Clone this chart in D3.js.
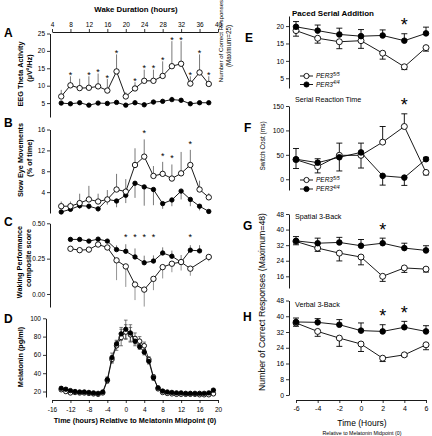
<!DOCTYPE html>
<html><head><meta charset="utf-8">
<script src="https://cdn.jsdelivr.net/npm/d3@7"></script>
<style>
body{margin:0;background:#fff;}
svg{display:block;font-family:"Liberation Sans",Arial,sans-serif;}
</style></head><body>
<script>
// ---------- DATA ----------
const wakeTicks = [4,8,12,16,20,24,28,32,36,40];
const melTicks = [-16,-12,-8,-4,0,4,8,12,16,20];
const wakeHours = [6,8,10,12,14,16,18,20,22,24,26,28,30,32,34,36,38];

const thetaOpen = [6.9,10.1,9.3,9.4,9.8,8.6,14.1,6.9,9.2,11.4,11.4,12.8,15.6,16.3,10.6,13.8,10.5];
const thetaOpenErr = [1.9,2.6,2.7,3.3,3.7,3.3,4.9,1.2,1.8,3.2,3.2,4.2,7.2,6.5,2.1,5.2,2.2];
const thetaFilled = [5.0,4.8,5.1,4.4,5.0,4.9,5.2,4.4,5.1,4.5,5.3,5.5,6.0,5.8,4.8,5.1,5.1];
const thetaFilledErr = [0.4,0.5,0.4,0.5,0.5,0.5,0.6,0.5,0.5,0.5,0.6,0.7,0.8,0.7,0.5,0.5,0.5];
const thetaStars = [8,12,14,16,18,22,24,26,28,30,32,34,36,38];
const thetaTicks = [5,10,15,20,25];

const semOpen = [1.3,1.3,1.9,2.6,2.2,2.6,4.5,4.1,9.2,10.8,7.1,7.5,6.6,7.6,9.2,4.5,3.0];
const semOpenErr = [0.9,0.9,1.8,2.6,1.5,1.8,3.0,2.4,3.2,3.3,1.9,2.3,2.7,4.1,2.9,1.7,0.8];
const semFilled = [0.2,0.7,1.4,1.3,0.8,2.6,2.3,3.4,5.7,5.0,4.5,1.8,2.5,4.2,2.6,1.3,0.3];
const semFilledErr = [0.2,0.4,0.6,0.6,0.5,1.0,1.2,1.5,2.8,3.6,3.0,1.0,1.2,1.6,1.3,0.8,0.3];
const semStars = [24,28,30,34];
const semTicks = [4,8,12,16];

const perfFilledHours = [8,10,12,14,16,18,20,22,24,26,28,30,32,34,36];
const perfFilled = [0.386,0.386,0.374,0.388,0.374,0.314,0.302,0.262,0.221,0.233,0.29,0.267,0.226,0.31,0.305];
const perfFilledErr = [0.015,0.015,0.015,0.015,0.015,0.03,0.05,0.06,0.05,0.04,0.04,0.04,0.05,0.035,0.04];
const perfOpenHours = [8,10,12,14,16,18,20,22,24,26,28,30,32,34,38];
const perfOpen = [0.32,0.31,0.314,0.35,0.329,0.238,0.195,0.067,0.031,0.107,0.19,0.214,0.226,0.179,0.262];
const perfOpenErr = [0.02,0.02,0.02,0.02,0.02,0.14,0.145,0.11,0.12,0.08,0.08,0.06,0.06,0.05,0.03];
const perfStars = [20,22,24,26,34];
const perfStarLevel = 0.42;
const perfTicks = [0,0.25,0.5];

const melTimes = [-14,-13,-12,-11,-10,-9,-8,-7,-6,-5,-4,-3,-2,-1,0,1,2,3,4,5,6,7,8,9,10,11,12,13,14,15,16,17,18,19];
const melFilled = [23.5,22.5,21,20,19.5,19.5,19,18.5,18,19.5,33,57,72,83,88,84,75,69,63,53,35,24,20.5,19.5,19,18.5,18.5,18,18,18,18,18,18.5,21.5];
const melFilledErr = [1.5,1.5,1,1,1,1,1,1,1,1,3,5,4,7,10,9,5,3,3,3,3,2,1.5,1,1,1,1,1,1,1,1,1,1,1.5];
const melOpen = [22,20,18.5,19,18.5,18.5,18,17.5,17,18.5,32,55,70,79,85,82,78,75,70,55,36,23,19,18,17.5,17,17,17,17,17,16.5,16.5,16.5,17.5];
const melOpenErr = [1.5,1.5,1,1,1,1,1,1,1,1,3,4,5,9,8,8,6,5,4,3,2,2,1,1,1,1,1,1,1,1,1,1,1,1.5];
const melYTicks = [20,40,60,80,100];

const taskTimes = [-6,-4,-2,0,2,4,6];
const psaFilled = [19.8,18.7,17.6,17.1,17.3,15.8,17.9];
const psaFilledErr = [1.5,1.6,1.8,1.9,1.6,2.0,1.8];
const psaOpen = [18.7,16.5,15.5,15.8,12.2,8.3,13.8];
const psaOpenErr = [1.6,1.4,2.0,2.2,1.7,0.8,1.0];
const psaStars = [4];
const psaTicks = [5,10,15,20];

const srtFilled = [41,34,45,55,7,3.4,41];
const srtFilledErr = [22,8,28,19,19,16,4];
const srtOpen = [40,26,49,49,76,108,14];
const srtOpenErr = [18,13,25,26,32,26,5];
const srtStars = [4];
const srtTicks = [0,50,100,150];

const spaFilled = [34.2,33,33.4,31.7,33,30.5,29.3];
const spaFilledErr = [2.2,2.6,2.6,3.2,2.6,2.5,2.4];
const spaOpen = [33.9,30.5,27.9,25.9,16,20.3,19.7];
const spaOpenErr = [1.7,1.7,4,4,2.6,2.3,1.5];
const spaStars = [2];
const spaTicks = [16,24,32,40,48];

const verFilled = [37.1,36.9,35.7,32.7,32.3,34.4,32.3];
const verFilledErr = [2,1.9,2.6,3.9,3.4,3,2.9];
const verOpen = [36.6,32.3,28.9,25.9,18.7,20.4,25.5];
const verOpenErr = [1.7,2.5,4.2,3.8,1.7,0.8,2.5];
const verStars = [2,4];
const verTicks = [0,8,16,24,32,40,48];

// ---------- SETUP ----------
const FONT = '"Liberation Sans", Arial, sans-serif';
const svg = d3.select("body").append("svg").attr("width",432).attr("height",436);

function txt(x,y,s,size,opts){
  opts = opts||{};
  return svg.append("text").attr("x",x).attr("y",y)
    .style("font-size",size+"px").style("font-weight",opts.bold?"bold":"normal")
    .attr("text-anchor",opts.anchor||"start").attr("fill","#000").text(s);
}
function rot(x,y,s,size,bold){
  return svg.append("text").attr("transform",`translate(${x},${y}) rotate(-90)`)
    .attr("text-anchor","middle").style("font-size",size+"px")
    .style("font-weight",bold?"bold":"normal").attr("fill","#000").text(s);
}
function styleAxis(g,size){
  g.attr("font-family",FONT).attr("font-size",size);
  g.selectAll("text").attr("fill","#000");
  g.selectAll("line").attr("stroke","#000").attr("stroke-width",0.8);
  g.select(".domain").attr("stroke","#000").attr("stroke-width",0.9);
}
const fmtPlain = d => String(d);
function yAxis(scale,x,ticks,size,fmt){
  const g = svg.append("g").attr("transform",`translate(${x},0)`)
    .call(d3.axisLeft(scale).tickValues(ticks).tickSize(3).tickSizeOuter(0).tickPadding(2).tickFormat(fmt||fmtPlain));
  styleAxis(g,size);
  return g;
}
function errBars(xS,yS,xs,ys,errs,dirs,cap,color,w){
  const g = svg.append("g").attr("stroke",color).attr("stroke-width",w||0.8).attr("fill","none");
  xs.forEach((xv,i)=>{
    const d = typeof dirs==="function"?dirs(i):dirs;
    const x = xS(xv);
    const top = d>=0 ? ys[i]+errs[i] : ys[i];
    const bot = d<=0 ? ys[i]-errs[i] : ys[i];
    g.append("line").attr("x1",x).attr("x2",x).attr("y1",yS(top)).attr("y2",yS(bot));
    if(cap){
      if(d>=0) g.append("line").attr("x1",x-cap).attr("x2",x+cap).attr("y1",yS(top)).attr("y2",yS(top));
      if(d<=0) g.append("line").attr("x1",x-cap).attr("x2",x+cap).attr("y1",yS(bot)).attr("y2",yS(bot));
    }
  });
}
function series(xS,yS,xs,ys,filled,r,lw){
  const line = d3.line().x((d,i)=>xS(xs[i])).y(d=>yS(d));
  svg.append("path").datum(ys).attr("d",line).attr("fill","none").attr("stroke","#000").attr("stroke-width",lw||0.9);
  svg.append("g").selectAll("circle").data(ys).join("circle")
    .attr("cx",(d,i)=>xS(xs[i])).attr("cy",d=>yS(d)).attr("r",r)
    .attr("fill",filled?"#000":"#fff").attr("stroke","#000").attr("stroke-width",0.9);
}
function stars(xS,positions,yFn,size){
  positions.forEach(p=>{
    svg.append("text").attr("x",xS(p)).attr("y",yFn(p)).attr("text-anchor","middle")
      .style("font-size",size+"px").attr("fill","#000").text("*");
  });
}

// ---------- LEFT COLUMN ----------
const xWake = d3.scaleLinear([4,40],[52,218]);
const xMel = d3.scaleLinear([-16,20],[52,218]);
const axX = 50;

txt(136,12,"Wake Duration (hours)",7.8,{bold:true,anchor:"middle"});
{
  const g = svg.append("g").attr("transform","translate(0,32)")
    .call(d3.axisTop(xWake).tickValues(wakeTicks).tickSize(3).tickSizeOuter(0).tickPadding(2).tickFormat(fmtPlain));
  styleAxis(g,6.5);
}

// Panel A
const yA = d3.scaleLinear([1,25],[117,33.5]);
yAxis(yA,axX,thetaTicks,6.5);
txt(4,37,"A",12,{bold:true});
rot(23,74,"EEG Theta Activity",7.3,true);
rot(32,68,"(\u00b5V\u00b2/Hz)",7.3,true);
errBars(xWake,yA,wakeHours,thetaOpen,thetaOpenErr,1,0,"#555",0.8);
errBars(xWake,yA,wakeHours,thetaFilled,thetaFilledErr,1,0,"#555",0.8);
series(xWake,yA,wakeHours,thetaFilled,true,2.2);
series(xWake,yA,wakeHours,thetaOpen,false,2.7);
stars(xWake,thetaStars,h=>{const i=wakeHours.indexOf(h);return yA(thetaOpen[i]+thetaOpenErr[i])+1.5;},9);

// Panel B
const yB = d3.scaleLinear([0,16],[213,129.5]);
yAxis(yB,axX,semTicks,6.5);
txt(4,127,"B",12,{bold:true});
rot(23,160,"Slow Eye Movements",7.3,true);
rot(32,158,"(% of time)",7.3,true);
errBars(xWake,yB,wakeHours,semOpen,semOpenErr,1,0,"#555",0.8);
errBars(xWake,yB,wakeHours,semFilled,semFilledErr,-1,0,"#555",0.8);
series(xWake,yB,wakeHours,semFilled,true,2.2);
series(xWake,yB,wakeHours,semOpen,false,2.7);
stars(xWake,semStars,h=>{const i=wakeHours.indexOf(h);return yB(semOpen[i]+semOpenErr[i])-3;},9);

// Panel C
const yC = d3.scaleLinear([-0.092,0.5],[307,223.3]);
yAxis(yC,axX,perfTicks,6.5,d3.format(".2f"));
txt(4,226,"C",12,{bold:true});
rot(22,262,"Waking Performance",7.3,true);
rot(31,258,"composite score",7.3,true);
errBars(xWake,yC,perfOpenHours,perfOpen,perfOpenErr,-1,0,"#888",0.9);
errBars(xWake,yC,perfFilledHours,perfFilled,perfFilledErr,1,0,"#555",0.8);
series(xWake,yC,perfFilledHours,perfFilled,true,2.2);
series(xWake,yC,perfOpenHours,perfOpen,false,2.7);
stars(xWake,perfStars,()=>yC(perfStarLevel)+5,9);

// Panel D
const yD = d3.scaleLinear([14,100],[397,318.3]);
yAxis(yD,axX-4,melYTicks,6.5);
txt(4,323,"D",12,{bold:true});
rot(23,357,"Melatonin (pg/ml)",7.3,true);
errBars(xMel,yD,melTimes,melOpen,melOpenErr,0,1.8,"#444",0.7);
errBars(xMel,yD,melTimes,melFilled,melFilledErr,0,1.8,"#444",0.7);
series(xMel,yD,melTimes,melOpen,false,2.3,0.8);
series(xMel,yD,melTimes,melFilled,true,2.2,0.8);
{
  const g = svg.append("g").attr("transform","translate(0,400)")
    .call(d3.axisBottom(xMel).tickValues(melTicks).tickSize(3).tickSizeOuter(0).tickPadding(4).tickFormat(fmtPlain));
  styleAxis(g,6.5);
}
txt(135,423,"Time (hours) Relative to Melatonin Midpoint (0)",7.3,{bold:true,anchor:"middle"});

// ---------- RIGHT COLUMN ----------
const xT = d3.scaleLinear([-6,6],[296,426]);
const rAx = 289;
const rdir = (f,o)=> (i=> f[i]>=o[i]?1:-1);
const odir = (f,o)=> (i=> f[i]>=o[i]?-1:1);

function legend(y1,y2){
  [[y1,false,"5/5"],[y2,true,"4/4"]].forEach(([y,filled,sup])=>{
    svg.append("line").attr("x1",300).attr("x2",313).attr("y1",y).attr("y2",y).attr("stroke","#000").attr("stroke-width",0.9);
    svg.append("circle").attr("cx",306.5).attr("cy",y).attr("r",2.6).attr("fill",filled?"#000":"#fff").attr("stroke","#000").attr("stroke-width",0.9);
    const t = svg.append("text").attr("x",316).attr("y",y+2.3).style("font-size","6.5px").style("font-style","italic").attr("fill","#000");
    t.append("tspan").text("PER3");
    t.append("tspan").attr("dy",-2.6).style("font-size","4.8px").text(sup);
  });
}
function rightPanel(yS,ticks,f,fe,o,oe,st,starSize){
  yAxis(yS,rAx,ticks,6.8);
  errBars(xT,yS,taskTimes,f,fe,rdir(f,o),3,"#000",0.9);
  errBars(xT,yS,taskTimes,o,oe,odir(f,o),3,"#000",0.9);
  series(xT,yS,taskTimes,o,false,3);
  series(xT,yS,taskTimes,f,true,2.8);
  stars(xT,st,p=>{const i=taskTimes.indexOf(p);const top=Math.max(f[i]+(f[i]>=o[i]?fe[i]:0),o[i]+(o[i]>f[i]?oe[i]:0));return yS(top)-2.5;},starSize);
}

// Panel E
const yE = d3.scaleLinear([2.2,22.9],[88,16]);
txt(292,16,"Paced Serial Addition",8,{bold:true});
txt(245,41.5,"E",12,{bold:true});
rot(223,41,"Number of Correct Responses",6.1,false);
rot(231,46,"(Maximum=25)",6.3,false);
rightPanel(yE,psaTicks,psaFilled,psaFilledErr,psaOpen,psaOpenErr,psaStars,18);
legend(76,84.5);

// Panel F
const yF = d3.scaleLinear([-22,150],[190,106]);
txt(295,101.5,"Serial Reaction Time",7.2);
txt(244,132,"F",12,{bold:true});
rot(265,146,"Switch Cost (ms)",6.5,false);
rightPanel(yF,srtTicks,srtFilled,srtFilledErr,srtOpen,srtOpenErr,srtStars,18);
legend(180,189);

// Panel G
const yG = d3.scaleLinear([10,48],[288,214]);
txt(295,218.5,"Spatial 3-Back",7.2);
txt(243,229.5,"G",12,{bold:true});
rightPanel(yG,spaTicks,spaFilled,spaFilledErr,spaOpen,spaOpenErr,spaStars,18);

// Panel H
const yH = d3.scaleLinear([0,48],[395,300.5]);
txt(295,307,"Verbal 3-Back",7.2);
txt(243,320.5,"H",12,{bold:true});
rightPanel(yH,verTicks,verFilled,verFilledErr,verOpen,verOpenErr,verStars,18);
{
  const g = svg.append("g").attr("transform","translate(0,400)")
    .call(d3.axisBottom(xT).tickValues(taskTimes).tickSize(3).tickSizeOuter(0).tickPadding(3).tickFormat(fmtPlain));
  styleAxis(g,7);
}
rot(265,302,"Number of Correct Responses (Maximum=48)",8.7,false);
txt(362,426,"Time (Hours)",8.5,{anchor:"middle"});
txt(362,434.5,"Relative to Melatonin Midpoint (0)",5.3,{anchor:"middle"});
</script>
</body></html>
